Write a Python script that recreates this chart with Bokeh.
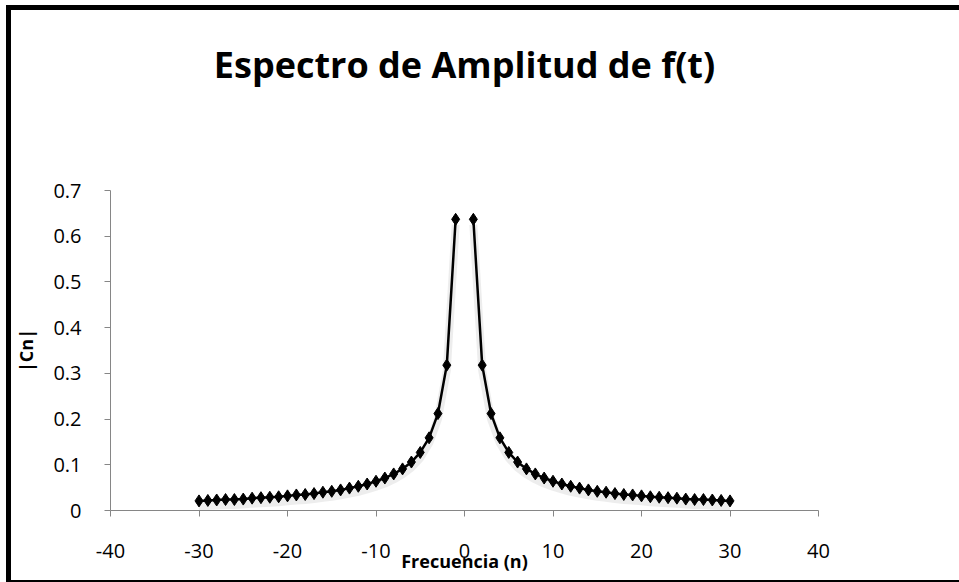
from bokeh.plotting import figure
from bokeh.models import FixedTicker, ColumnDataSource, Title
from bokeh.transform import dodge
from bokeh.embed import file_html
from bokeh.resources import INLINE

# Data
n_neg = [-30, -29, -28, -27, -26, -25, -24, -23, -22, -21, -20, -19, -18, -17, -16,
         -15, -14, -13, -12, -11, -10, -9, -8, -7, -6, -5, -4, -3, -2, -1]
cn_neg = [0.021, 0.022, 0.023, 0.024, 0.024, 0.025, 0.027, 0.028, 0.029, 0.030,
          0.032, 0.034, 0.035, 0.037, 0.040, 0.042, 0.045, 0.049, 0.053, 0.058,
          0.064, 0.071, 0.080, 0.091, 0.106, 0.127, 0.159, 0.212, 0.318, 0.637]
n_pos = [1, 2, 3, 4, 5, 6, 7, 8, 9, 10, 11, 12, 13, 14, 15,
         16, 17, 18, 19, 20, 21, 22, 23, 24, 25, 26, 27, 28, 29, 30]
cn_pos = [0.637, 0.318, 0.212, 0.159, 0.127, 0.106, 0.091, 0.080, 0.071, 0.064,
          0.058, 0.053, 0.049, 0.045, 0.042, 0.040, 0.037, 0.035, 0.034, 0.032,
          0.030, 0.029, 0.028, 0.027, 0.025, 0.024, 0.024, 0.023, 0.022, 0.021]

x_ticks = [-40, -30, -20, -10, 0, 10, 20, 30, 40]
x_tick_labels = ["-40", "-30", "-20", "-10", "0", "10", "20", "30", "40"]
y_ticks = [0, 0.1, 0.2, 0.3, 0.4, 0.5, 0.6, 0.7]
y_tick_labels = ["0", "0.1", "0.2", "0.3", "0.4", "0.5", "0.6", "0.7"]

title_text = "Espectro de Amplitud de f(t)"
x_label = "Frecuencia (n)"
y_label = "|Cn|"

FONT = "Open Sans"
AXIS_GREY = "#868686"

p = figure(width=948, height=570, output_backend="svg", toolbar_location=None,
           x_range=(-40, 40), y_range=(0, 0.7),
           min_border_left=99, min_border_right=146, min_border_top=180,
           min_border_bottom=77,
           styles={"box-sizing": "content-box",
                   "border-left": "5px solid black", "border-top": "5px solid black",
                   "border-bottom": "2px solid black",
                   "margin-left": "6px", "margin-top": "5px"})

p.title.text = ""
# spacer between the chart title and the plot area (nearest the frame)
p.add_layout(Title(text=" ", text_font_size="10px", standoff=89), "above")
p.add_layout(Title(text=title_text, align="center", text_font=FONT,
                   text_font_size="36px", text_font_style="bold",
                   text_color="black", standoff=0), "above")

p.outline_line_color = None
p.xgrid.grid_line_color = None
p.ygrid.grid_line_color = None

for ax in (p.xaxis[0], p.yaxis[0]):
    ax.axis_line_color = AXIS_GREY
    ax.major_tick_line_color = AXIS_GREY
    ax.minor_tick_line_color = None
    ax.major_tick_out = 6
    ax.major_tick_in = 0
    ax.major_label_text_font = FONT
    ax.major_label_text_font_size = "20px"
    ax.major_label_text_color = "black"
    ax.axis_label_text_font = FONT
    ax.axis_label_text_font_style = "bold"
    ax.axis_label_text_font_size = "18px"
    ax.axis_label_text_color = "black"

p.xaxis[0].ticker = FixedTicker(ticks=x_ticks)
p.yaxis[0].ticker = FixedTicker(ticks=y_ticks)
p.xaxis[0].major_label_overrides = {t: l for t, l in zip(x_ticks, x_tick_labels)}
p.yaxis[0].major_label_overrides = {t: l for t, l in zip(y_ticks, y_tick_labels)}
p.xaxis[0].major_label_standoff = 27
p.yaxis[0].major_label_standoff = 23
p.xaxis[0].axis_label = x_label
p.yaxis[0].axis_label = y_label
p.xaxis[0].axis_label_standoff = -12
p.yaxis[0].axis_label_standoff = 12

for xs, ys in ((n_neg, cn_neg), (n_pos, cn_pos)):
    src = ColumnDataSource(dict(x=xs, y=ys))
    # soft drop shadow like the original spreadsheet chart
    p.line("x", dodge("y", -0.012, range=p.y_range), source=src,
           line_color="#9a9a9a", line_width=8, line_alpha=0.18)
    p.line("x", "y", source=src, line_color="black", line_width=2.5)
    p.scatter("x", "y", source=src, marker="diamond", size=12,
              fill_color="black", line_color="black")

open("out.html", "w").write(file_html(p, INLINE))
